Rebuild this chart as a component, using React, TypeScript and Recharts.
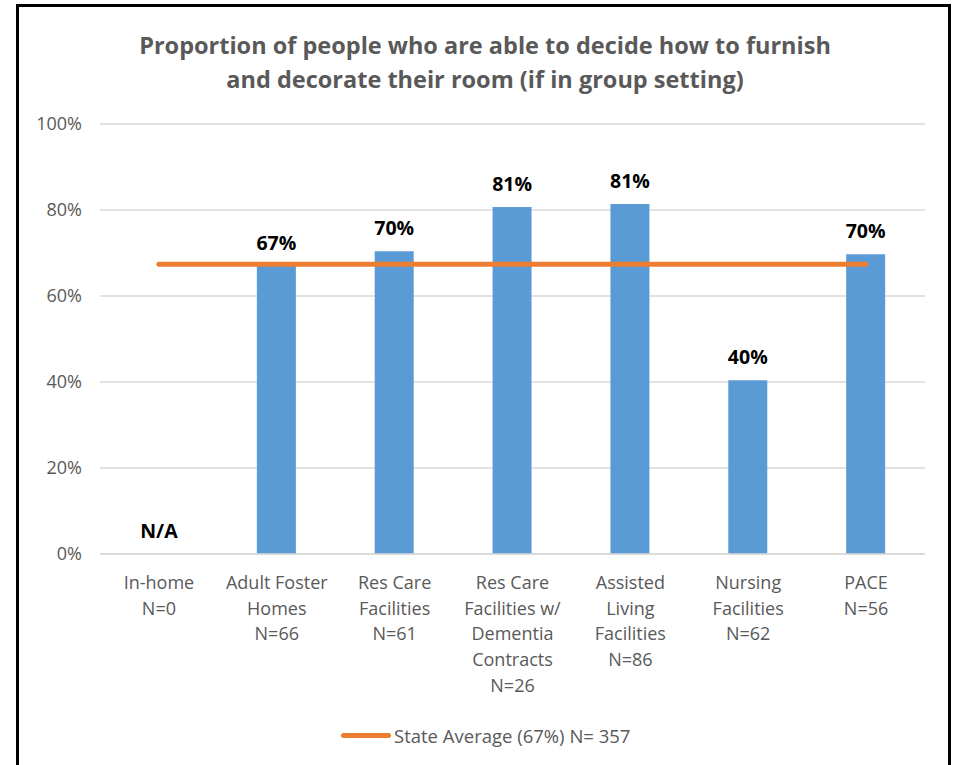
import { Bar, Line, XAxis, YAxis, CartesianGrid, LabelList, ReferenceDot, ComposedChart } from 'recharts'

const categories = [
  'In-home\nN=0',
  'Adult Foster\nHomes\nN=66',
  'Res Care\nFacilities\nN=61',
  'Res Care\nFacilities w/\nDementia\nContracts\nN=26',
  'Assisted\nLiving\nFacilities\nN=86',
  'Nursing\nFacilities\nN=62',
  'PACE\nN=56',
]
// In-home has no data (shown as N/A)
const proportions = [null, 67, 70.4, 80.7, 81.4, 40.4, 69.7]
const stateAverage = [67.4, 67.4, 67.4, 67.4, 67.4, 67.4, 67.4]
const yTicks = [0, 20, 40, 60, 80, 100]
const legendLabel = 'State Average (67%) N= 357'

const data = categories.map((name, i) => ({
  name,
  value: proportions[i],
  avg: stateAverage[i],
}))

const FONT = '"Open Sans", sans-serif'
const GREY = '#595959'

const CategoryTick = ({ x, y, payload }: any) => {
  const lines = String(payload.value).split('\n')
  return (
    <text x={x} y={y} textAnchor="middle" fill={GREY} fontFamily={FONT} fontSize={18}>
      {lines.map((l, i) => (
        <tspan key={i} x={x} dy={i === 0 ? 27 : 25.7}>{l}</tspan>
      ))}
    </text>
  )
}

const ValueLabel = ({ x, y, width, value }: any) => {
  if (value == null) return null
  return (
    <text x={x + width / 2} y={y - 16} textAnchor="middle" fill="#000" fontFamily={FONT}
      fontSize={19.5} fontWeight="bold">
      {`${Math.round(value)}%`}
    </text>
  )
}

const NaLabel = ({ viewBox }: any) => (
  <text x={viewBox.x} y={viewBox.y - 16} textAnchor="middle" fill="#000" fontFamily={FONT}
    fontSize={19.5} fontWeight="bold">
    N/A
  </text>
)

export default function App() {
  return (
    <div style={{ position: 'absolute', left: 0, top: 0, width: 955, height: 765, background: '#fff', overflow: 'hidden' }}>
      <div style={{ position: 'absolute', left: 16, top: 4, width: 935, height: 800, border: '3px solid #000', boxSizing: 'border-box' }} />
      <div style={{
        position: 'absolute', left: 0, top: 28, width: 970, textAlign: 'center',
        fontFamily: FONT, fontWeight: 'bold', fontSize: 23.5, lineHeight: '34px', color: GREY,
      }}>
        Proportion of people who are able to decide how to furnish<br />
        and decorate their room (if in group setting)
      </div>
      <div style={{ position: 'absolute', left: 0, top: 0 }}>
        <ComposedChart width={955} height={765} data={data}
          margin={{ top: 124, right: 30, bottom: 61, left: 22 }}>
          <CartesianGrid vertical={false} stroke="#d9d9d9" strokeWidth={1.5} />
          <XAxis dataKey="name" interval={0} tick={<CategoryTick />} height={150}
            axisLine={{ stroke: '#d9d9d9', strokeWidth: 1.5 }} tickLine={false} />
          <YAxis domain={[0, 100]} ticks={yTicks} width={78} axisLine={false} tickLine={false}
            tickFormatter={v => `${v}%`} tickMargin={12}
            tick={{ fill: GREY, fontFamily: FONT, fontSize: 18 }} />
          <Bar dataKey="value" fill="#5B9BD5" barSize={39} isAnimationActive={false}>
            <LabelList dataKey="value" content={<ValueLabel />} />
          </Bar>
          <ReferenceDot x={categories[0]} y={0} r={0} fill="none" stroke="none" label={<NaLabel />} />
          <Line dataKey="avg" stroke="#ED7D31" strokeWidth={5} strokeLinecap="round" dot={false}
            activeDot={false} isAnimationActive={false} />
        </ComposedChart>
      </div>
      <div style={{
        position: 'absolute', left: 341, top: 723, height: 24, display: 'flex', alignItems: 'center',
        fontFamily: FONT, fontSize: 18.5, color: GREY, whiteSpace: 'nowrap',
      }}>
        <span style={{ display: 'inline-block', width: 50, height: 5, borderRadius: 3, background: '#ED7D31', marginRight: 3 }} />
        <span>{legendLabel}</span>
      </div>
    </div>
  )
}
